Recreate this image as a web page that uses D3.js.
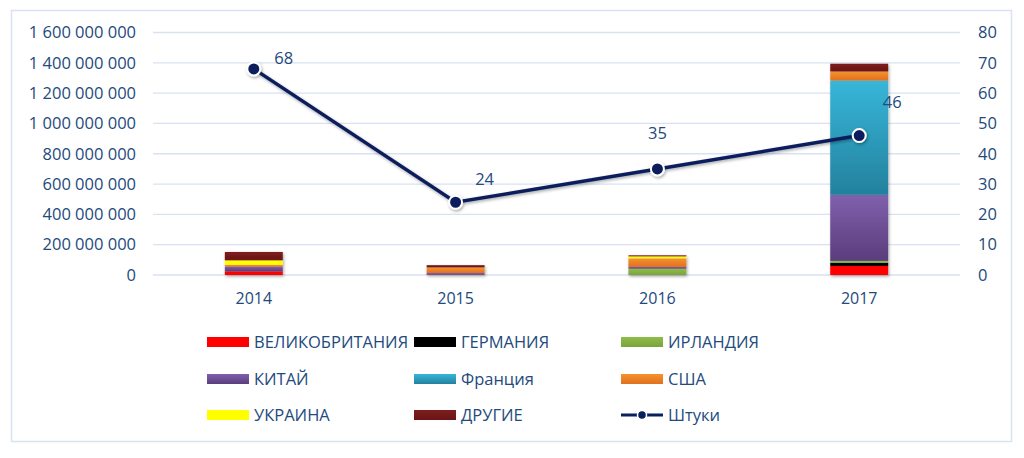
<!DOCTYPE html>
<html><head><meta charset="utf-8">
<script src="https://cdn.jsdelivr.net/npm/d3@7"></script>
<style>body{margin:0;background:#fff} text{font-family:"Open Sans",sans-serif}</style>
</head><body><svg id="c" width="1024" height="458"></svg>
<script>
const years = ["2014","2015","2016","2017"];
const seriesNames = ["ВЕЛИКОБРИТАНИЯ","ГЕРМАНИЯ","ИРЛАНДИЯ","КИТАЙ","Франция","США","УКРАИНА","ДРУГИЕ"];
const uk      = [24e6, 2e6, 0, 60e6];
const germany = [0, 0, 0, 20e6];
const ireland = [0, 0, 42e6, 13e6];
const china   = [31e6, 11e6, 11e6, 436e6];
const france  = [0, 0, 0, 754e6];
const usa     = [12e6, 37e6, 57e6, 60e6];
const ukraine = [30e6, 0, 13e6, 0];
const other   = [55e6, 15e6, 7e6, 51e6];
const lineName = "Штуки";
const units = [68, 24, 35, 46];
const leftTicks = [0, 2e8, 4e8, 6e8, 8e8, 10e8, 12e8, 14e8, 16e8];
const rightTicks = [0, 10, 20, 30, 40, 50, 60, 70, 80];

const seriesValues = [uk, germany, ireland, china, france, usa, ukraine, other];
const gradColors = [
  ["#ff0000","#ff0000"], ["#000000","#000000"], ["#8fbc4a","#7aa33a"], ["#8060ad","#5a3d7c"],
  ["#37b6d9","#23819d"], ["#f7922e","#e07020"], ["#ffff00","#ffff00"], ["#7f1d1d","#6a1515"]
];
const labelOffsets = [[30,-11],[29,-23],[0,-36],[33,-33]];

const svg = d3.select("#c");
const defs = svg.append("defs");
gradColors.forEach((c,i)=>{
  const g = defs.append("linearGradient").attr("id","g"+i).attr("x1",0).attr("y1",0).attr("x2",0).attr("y2",1);
  g.append("stop").attr("offset","0%").attr("stop-color",c[0]);
  g.append("stop").attr("offset","100%").attr("stop-color",c[1]);
});
const f = defs.append("filter").attr("id","sh").attr("x","-20%").attr("y","-20%").attr("width","150%").attr("height","150%");
f.append("feDropShadow").attr("dx",1).attr("dy",1.5).attr("stdDeviation",1.5).attr("flood-opacity",0.35);

const textColor = "#234a7d";
const fs = "16.5px";
svg.append("rect").attr("x",11.5).attr("y",10.5).attr("width",1000).attr("height",431)
  .attr("fill","#fff").attr("stroke","#d9e2f3").attr("stroke-width",1.5);

const pLeft = 153, pRight = 960, pTop = 32.5, pBottom = 275;
const x = d3.scaleBand().domain(years).range([pLeft,pRight]).paddingInner(0.713).paddingOuter(0.356);
const y = d3.scaleLinear().domain([0,1.6e9]).range([pBottom,pTop]);
const y2 = d3.scaleLinear().domain([0,80]).range([pBottom,pTop]);

// gridlines
svg.append("g").selectAll("line").data(leftTicks).join("line")
  .attr("x1",pLeft).attr("x2",pRight).attr("y1",d=>y(d)).attr("y2",d=>y(d))
  .attr("stroke","#d9e2f3").attr("stroke-width",1.3);

// left axis
const ax = svg.append("g").attr("transform",`translate(${pLeft},0)`)
  .call(d3.axisLeft(y).tickValues(leftTicks).tickSize(0).tickPadding(17)
    .tickFormat(d=>d3.format(",")(d).replace(/,/g," ")));
ax.select(".domain").remove();
ax.selectAll("text").attr("fill",textColor).style("font-size",fs).style("font-family","Open Sans");

const ax2 = svg.append("g").attr("transform",`translate(${pRight},0)`)
  .call(d3.axisRight(y2).tickValues(rightTicks).tickSize(0).tickPadding(18));
ax2.select(".domain").remove();
ax2.selectAll("text").attr("fill",textColor).style("font-size",fs).style("font-family","Open Sans");

const axb = svg.append("g").attr("transform",`translate(0,${pBottom})`)
  .call(d3.axisBottom(x).tickSize(0).tickPadding(18));
axb.select(".domain").remove();
axb.selectAll("text").attr("fill",textColor).style("font-size","16px").style("font-family","Open Sans");

// stacked bars
const table = years.map((yr,i)=>{ const o={year:yr}; seriesNames.forEach((n,k)=>o[n]=seriesValues[k][i]); return o; });
const stack = d3.stack().keys(seriesNames)(table);
const barsG = svg.append("g").attr("filter","url(#sh)");
stack.forEach((layer,k)=>{
  barsG.selectAll(null).data(layer).join("rect")
    .attr("x",d=>x(d.data.year)).attr("width",x.bandwidth())
    .attr("y",d=>y(d[1])).attr("height",d=>Math.max(0,y(d[0])-y(d[1])))
    .attr("fill",`url(#g${k})`);
});

// line
const cx = d=>x(d.year)+x.bandwidth()/2;
const pts = years.map((yr,i)=>({year:yr,v:units[i],i}));
const lg = svg.append("g").attr("filter","url(#sh)");
lg.append("path").datum(pts).attr("fill","none").attr("stroke","#0a1f5c").attr("stroke-width",3.5)
  .attr("d",d3.line().x(cx).y(d=>y2(d.v)));
lg.selectAll("circle").data(pts).join("circle").attr("cx",cx).attr("cy",d=>y2(d.v)).attr("r",6.5)
  .attr("fill","#0a1f5c").attr("stroke","#fff").attr("stroke-width",2);
svg.append("g").selectAll("text").data(pts).join("text")
  .attr("x",d=>cx(d)+labelOffsets[d.i][0]).attr("y",d=>y2(d.v)+labelOffsets[d.i][1])
  .attr("text-anchor","middle").attr("dy","0.35em").attr("fill",textColor)
  .style("font-size",fs).text(d=>d.v);

// legend
const legItems = seriesNames.map((n,k)=>({name:n,k,type:"bar"})).concat([{name:lineName,type:"line"}]);
const colX = [207, 414, 621], rowY = [342, 379, 415];
const leg = svg.append("g");
legItems.forEach((it,i)=>{
  const gx = colX[i%3], gy = rowY[Math.floor(i/3)];
  const g = leg.append("g").attr("transform",`translate(${gx},${gy})`);
  if(it.type==="bar"){
    g.append("rect").attr("x",0).attr("y",-5).attr("width",42).attr("height",10).attr("fill",`url(#g${it.k})`);
  } else {
    g.append("line").attr("x1",0).attr("x2",42).attr("y1",0).attr("y2",0).attr("stroke","#0a1f5c").attr("stroke-width",3);
    g.append("circle").attr("cx",21).attr("cy",0).attr("r",4.5).attr("fill","#0a1f5c").attr("stroke","#fff").attr("stroke-width",1.5);
  }
  g.append("text").attr("x",47).attr("y",0).attr("dy","0.36em").attr("fill",textColor)
    .style("font-size",fs).text(it.name);
});
</script></body></html>
